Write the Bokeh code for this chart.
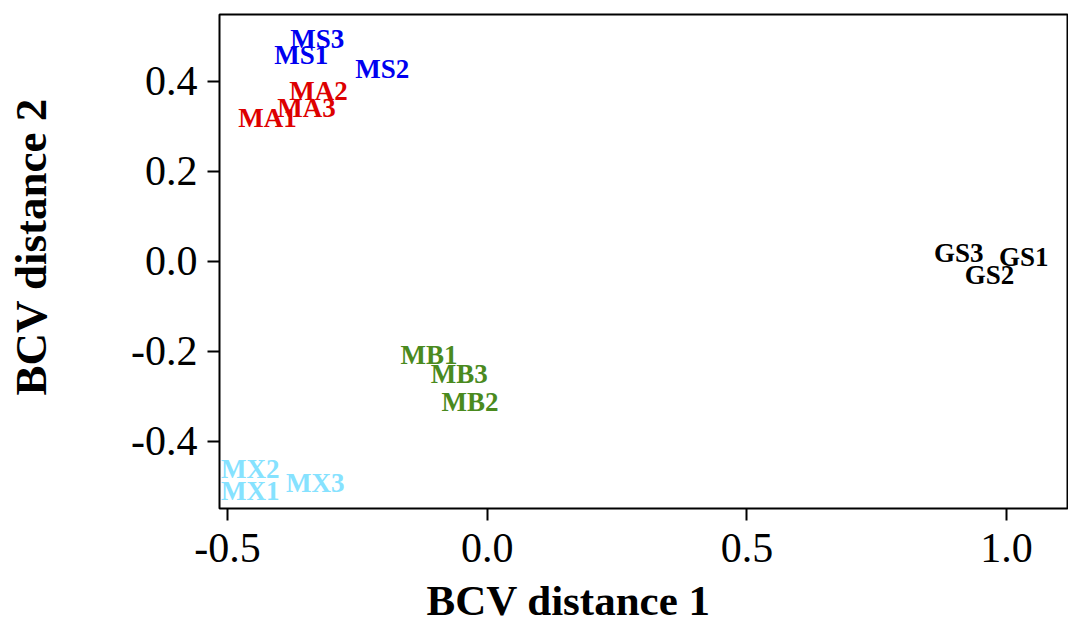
from bokeh.plotting import figure
from bokeh.models import ColumnDataSource, FixedTicker, PrintfTickFormatter, Title
from bokeh.core.properties import value
from bokeh.embed import file_html
from bokeh.resources import INLINE

samples = ["MS3", "MS1", "MS2", "MA2", "MA3", "MA1", "GS3", "GS1", "GS2",
           "MB1", "MB3", "MB2", "MX2", "MX1", "MX3"]
dim1 = [-0.327, -0.358, -0.202, -0.325, -0.348, -0.423, 0.908, 1.033, 0.967,
        -0.112, -0.054, -0.033, -0.456, -0.456, -0.331]
dim2 = [0.494, 0.457, 0.426, 0.379, 0.341, 0.319, 0.019, 0.008, -0.030,
        -0.208, -0.250, -0.314, -0.463, -0.510, -0.494]
group_colors = {"MS": "#0000f0", "MA": "#dd0000", "GS": "#000000",
                "MB": "#4a8a1e", "MX": "#86e2ff"}
colors = [group_colors[s[:2]] for s in samples]

x_ticks = [-0.5, 0.0, 0.5, 1.0]
y_ticks = [-0.4, -0.2, 0.0, 0.2, 0.4]
x_title = "BCV distance 1"
y_title = "BCV distance 2"

src = ColumnDataSource(dict(x=dim1, y=dim2, label=samples, color=colors))

p = figure(width=1068, height=626, output_backend="svg", toolbar_location=None,
           x_range=(-0.5154, 1.1192), y_range=(-0.550, 0.548),
           min_border_left=218, min_border_top=14, min_border_bottom=118,
           min_border_right=0)
p.grid.visible = False
p.outline_line_color = "black"
p.outline_line_width = 2
p.background_fill_color = "white"
p.border_fill_color = "white"

p.text(x="x", y="y", text="label", text_color="color", source=src,
       text_font=value("Liberation Serif"), text_font_style="bold",
       text_font_size="27px", text_align="center", text_baseline="middle")

for ax in (p.xaxis[0], p.yaxis[0]):
    ax.axis_line_color = None
    ax.major_tick_line_color = "black"
    ax.major_tick_line_width = 2
    ax.major_tick_out = 12
    ax.major_tick_in = 0
    ax.minor_tick_line_color = None
    ax.major_label_text_font = "Liberation Serif"
    ax.major_label_text_font_size = "42px"
    ax.major_label_text_color = "black"
    ax.formatter = PrintfTickFormatter(format="%.1f")
    # blank spacer label, keeps the titles away from the tick labels
    ax.axis_label = " "
    ax.axis_label_text_font_size = "2px"

p.xaxis.ticker = FixedTicker(ticks=x_ticks)
p.yaxis.ticker = FixedTicker(ticks=y_ticks)
p.xaxis.major_label_standoff = 13
p.yaxis.major_label_standoff = 10
p.xaxis.axis_label_standoff = 5
p.yaxis.axis_label_standoff = 60

p.add_layout(Title(text=x_title, align="left", offset=207, standoff=0,
                   vertical_align="bottom",
                   text_font="Liberation Serif", text_font_style="bold",
                   text_font_size="43px", text_color="black"), "below")
p.add_layout(Title(text=y_title, align="left", offset=113, standoff=10,
                   vertical_align="top",
                   text_font="Liberation Serif", text_font_style="bold",
                   text_font_size="45px", text_color="black"), "left")

open("out.html", "w").write(file_html(p, INLINE))
